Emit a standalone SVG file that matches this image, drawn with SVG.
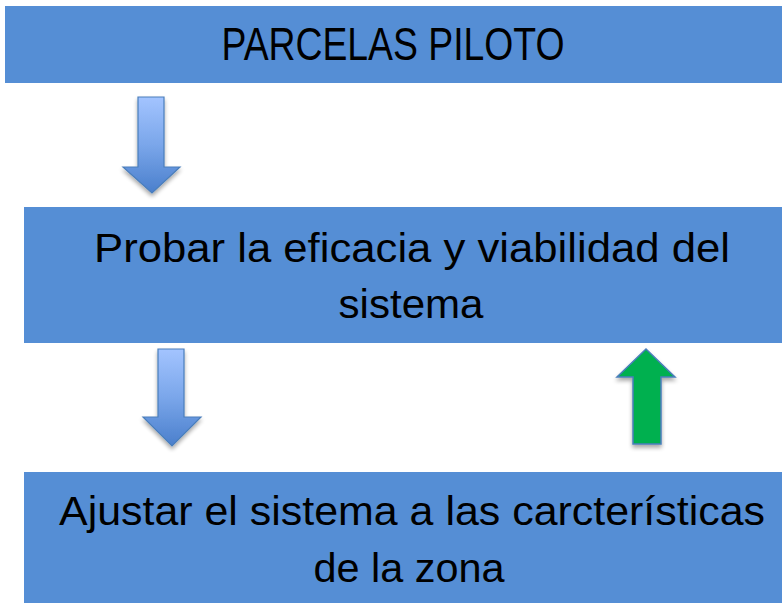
<svg xmlns="http://www.w3.org/2000/svg" width="782" height="603" viewBox="0 0 782 603">
<style>
.box{fill:#558ED5;}
.t{font-family:"Liberation Sans",Arial,sans-serif;fill:#000;}
.blue{fill:url(#gb);stroke:#4A7EBB;stroke-width:1.2;}
.green{fill:#00B050;stroke:#4A7EBB;stroke-width:1.5;}
</style>
<defs>
<linearGradient id="gb" x1="0" y1="0" x2="0" y2="1">
<stop offset="0" stop-color="#A3C4FF"/>
<stop offset="0.5" stop-color="#7AA6EA"/>
<stop offset="1" stop-color="#4A7FCC"/>
</linearGradient>
<filter id="sh" x="-30%" y="-20%" width="160%" height="150%">
<feGaussianBlur in="SourceAlpha" stdDeviation="2"/>
<feOffset dx="0" dy="3" result="b"/>
<feComponentTransfer><feFuncA type="linear" slope="0.35"/></feComponentTransfer>
<feMerge><feMergeNode/><feMergeNode in="SourceGraphic"/></feMerge>
</filter>
</defs>
<rect width="782" height="603" fill="#fff"/>
<g id="node-parcelas">
<rect class="box" x="5" y="6" width="777" height="77"/>
<text class="t" x="393" y="60" font-size="46" text-anchor="middle" textLength="343" lengthAdjust="spacingAndGlyphs">PARCELAS PILOTO</text>
</g>
<g id="node-probar">
<rect class="box" x="24" y="207" width="758" height="136"/>
<text class="t" x="412" y="262" font-size="41" text-anchor="middle" textLength="636" lengthAdjust="spacingAndGlyphs">Probar la eficacia y viabilidad del</text>
<text class="t" x="411" y="318" font-size="41" text-anchor="middle" textLength="145" lengthAdjust="spacingAndGlyphs">sistema</text>
</g>
<g id="node-ajustar">
<rect class="box" x="24" y="472" width="758" height="131"/>
<text class="t" x="412" y="525" font-size="41" text-anchor="middle" textLength="706" lengthAdjust="spacingAndGlyphs">Ajustar el sistema a las carcterísticas</text>
<text class="t" x="409" y="582" font-size="41" text-anchor="middle" textLength="191" lengthAdjust="spacingAndGlyphs">de la zona</text>
</g>
<g id="connectors">
<path class="blue" filter="url(#sh)" d="M138,97 H164 V167 H180 L152,193 L123,167 H138 Z"/>
<path class="blue" filter="url(#sh)" d="M158,349 H184 V417 H201 L172,446 L143,417 H158 Z"/>
<path class="green" filter="url(#sh)" d="M646,349 L675,377 H661 V444 H633 V377 H617 Z"/>
</g>
</svg>
